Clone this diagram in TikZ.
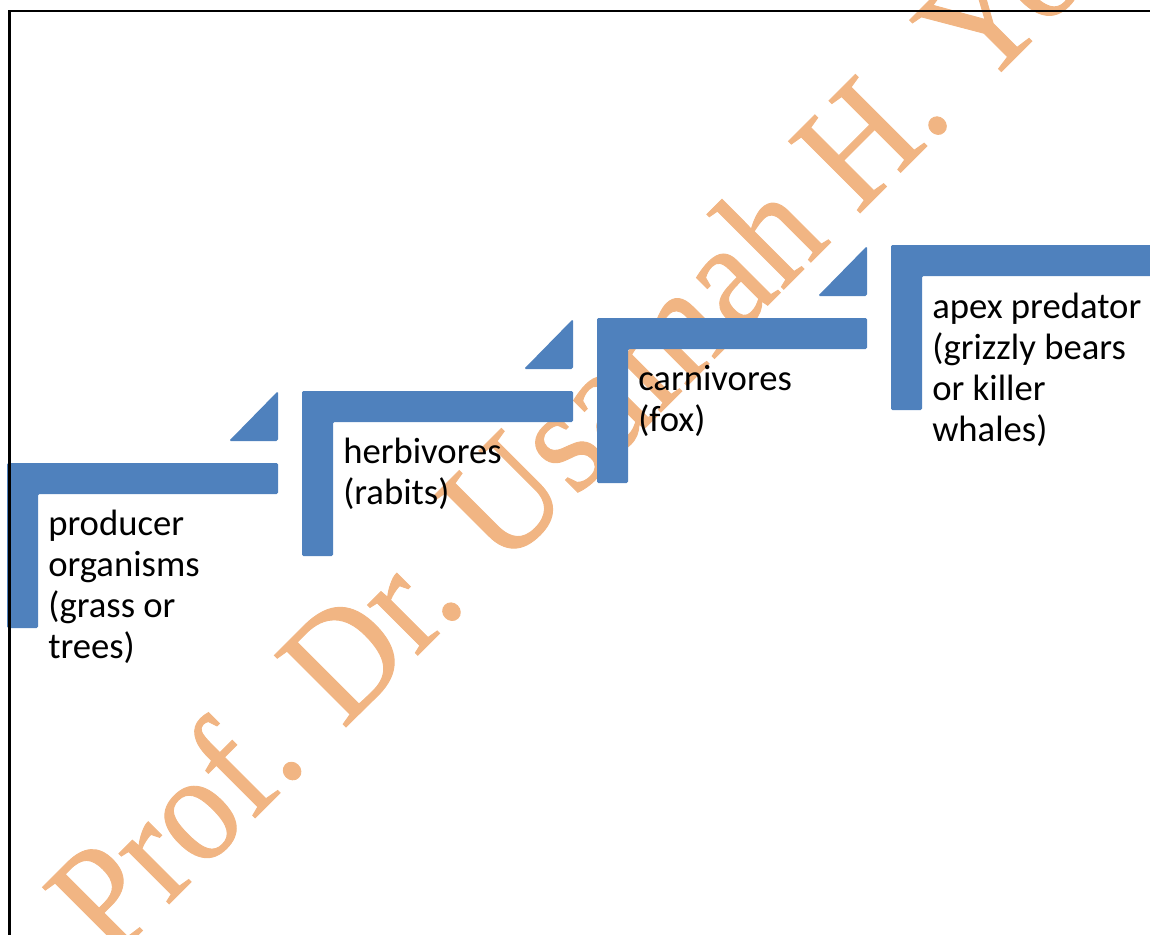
\documentclass[tikz,border=0pt]{standalone}
\usepackage{fontspec}
\setmainfont{Carlito}
\newfontfamily\markfont[FakeStretch=0.92,FakeBold=0.6]{Liberation Serif}
\definecolor{stairblue}{RGB}{79,129,189}
\definecolor{markorange}{RGB}{241,181,131}

\begin{document}
\begin{tikzpicture}[x=0.75pt,y=0.75pt,yscale=-1,xscale=1,
	stair/.style={fill=stairblue,draw=none,rounded corners=1pt},
	wedge/.style={fill=stairblue,draw=none,rounded corners=1.2pt},
	level/.style={anchor=base west,inner sep=0pt,align=left,font=\fontsize{27.5}{30.75}\selectfont},
	watermark/.style={rotate=45,anchor=base west,inner sep=0pt,text=markorange,font=\markfont\fontsize{116}{116}\selectfont}]
	\useasboundingbox (0,0) rectangle (1150,935);
	\clip (0,0) rectangle (1150,935);
	
	% Text Node (watermark)
	\node [watermark] (mark) at (111,962) {Prof. Dr. Usamah H. Yo};
	
	%Shape: Corner [producer step]
	\draw [stair] (7,463) -- (278,463) -- (278,494) -- (38,494) -- (38,628) -- (7,628) -- cycle ;
	%Shape: Corner [herbivore step]
	\draw [stair] (302,391) -- (573,391) -- (573,422) -- (333,422) -- (333,556) -- (302,556) -- cycle ;
	%Shape: Corner [carnivore step]
	\draw [stair] (597,318) -- (867,318) -- (867,349) -- (628,349) -- (628,483) -- (597,483) -- cycle ;
	%Shape: Corner [apex step]
	\draw [stair] (891,245) -- (1162,245) -- (1162,276) -- (922,276) -- (922,410) -- (891,410) -- cycle ;
	
	%Shape: Right Triangle
	\draw [wedge] (229,441) -- (278,391) -- (278,441) -- cycle ;
	%Shape: Right Triangle
	\draw [wedge] (524,369) -- (573,319) -- (573,369) -- cycle ;
	%Shape: Right Triangle
	\draw [wedge] (818,296) -- (867,246) -- (867,296) -- cycle ;
	
	% Text Node (base = last line)
	\node [level] (producer) at (48,658) {producer\\organisms\\(grass or\\trees)};
	% Text Node
	\node [level] (herbivore) at (343,504) {herbivores\\(rabits)};
	% Text Node
	\node [level] (carnivore) at (638,431) {carnivores\\(fox)};
	% Text Node
	\node [level] (apex) at (932,441) {apex predator\\(grizzly bears\\or killer\\whales)};
	
	%Straight Lines [cell border]
	\draw [line width=1.9pt] (9.5,935) -- (9.5,11) -- (1150,11) ;
	
\end{tikzpicture}
\end{document}
